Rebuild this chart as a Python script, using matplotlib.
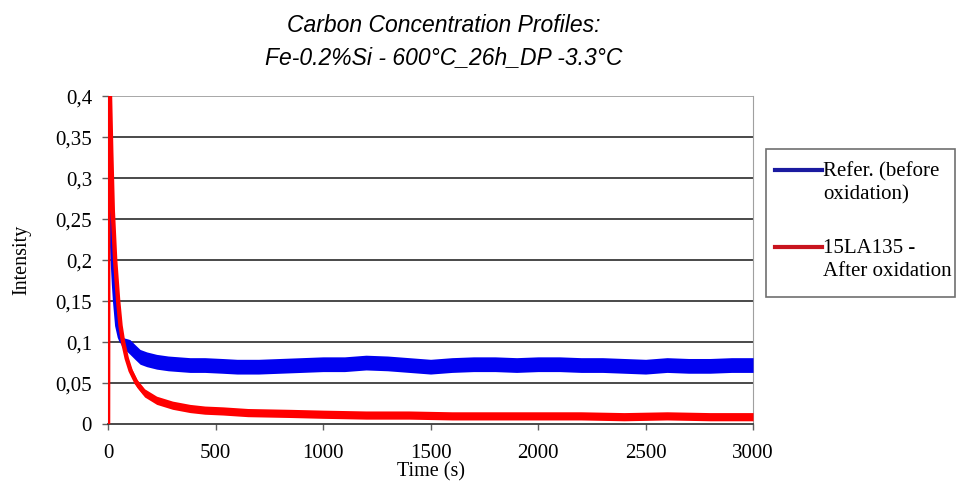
import matplotlib
matplotlib.use('Agg')
import matplotlib.pyplot as plt
from matplotlib.lines import Line2D
from matplotlib.patches import Rectangle
import numpy as np

# --- data ---
ref_time = [8, 12, 16, 22, 28, 33, 43, 55, 63, 75, 90, 102, 125, 149, 180, 226, 280, 330,
            381, 450, 530, 600, 700, 800, 900, 1000, 1100, 1200, 1300, 1400, 1500, 1600,
            1700, 1800, 1900, 2000, 2100, 2200, 2300, 2400, 2500, 2600, 2700, 2800, 2900, 3000]
ref_intensity = [0.30, 0.27, 0.24, 0.20, 0.17, 0.15, 0.12, 0.106, 0.101, 0.098, 0.096, 0.094,
                 0.088, 0.082, 0.079, 0.076, 0.074, 0.073, 0.072, 0.072, 0.071, 0.070, 0.070,
                 0.071, 0.072, 0.073, 0.073, 0.075, 0.074, 0.072, 0.070, 0.072, 0.073, 0.073,
                 0.072, 0.073, 0.073, 0.072, 0.072, 0.071, 0.070, 0.072, 0.071, 0.071, 0.072, 0.072]
ref_spread = [0.0, 0.0, 0.0, 0.0, 0.0, 0.001, 0.003, 0.005, 0.006, 0.007, 0.008, 0.009,
              0.009, 0.009, 0.009, 0.009, 0.009, 0.009, 0.009, 0.009, 0.009, 0.009,
              0.009, 0.009, 0.009, 0.009, 0.009, 0.009, 0.009, 0.009, 0.009, 0.009,
              0.009, 0.009, 0.009, 0.009, 0.009, 0.009, 0.009, 0.009, 0.009, 0.009,
              0.009, 0.009, 0.009, 0.009]

ox_time = [0, 2, 9, 15, 22, 33, 47, 58, 70, 87, 105, 133, 170, 226, 300, 381, 450, 535,
           650, 847, 1000, 1200, 1400, 1600, 1800, 2000, 2200, 2400, 2600, 2800, 3000]
ox_intensity = [0.0, 0.45, 0.40, 0.33, 0.26, 0.20, 0.15, 0.12, 0.10, 0.08, 0.065, 0.05,
                0.038, 0.029, 0.023, 0.019, 0.017, 0.016, 0.014, 0.013, 0.012, 0.011, 0.011,
                0.010, 0.010, 0.010, 0.010, 0.009, 0.010, 0.009, 0.009]
ox_spread = [0.0, 0.0, 0.0, 0.0, 0.0, 0.0, 0.002, 0.003, 0.004, 0.005, 0.005, 0.005,
             0.005, 0.005, 0.005, 0.005, 0.005, 0.005, 0.005, 0.005, 0.005, 0.005,
             0.005, 0.005, 0.005, 0.005, 0.005, 0.005, 0.005, 0.005, 0.005]

y_ticks = [0, 0.05, 0.1, 0.15, 0.2, 0.25, 0.3, 0.35, 0.4]
y_labels = ['0', '0,05', '0,1', '0,15', '0,2', '0,25', '0,3', '0,35', '0,4']
x_ticks = [0, 500, 1000, 1500, 2000, 2500, 3000]

title = 'Carbon Concentration Profiles:\nFe-0.2%Si - 600°C_26h_DP -3.3°C'
legend_labels = ['Refer. (before\noxidation)', '15LA135 -\nAfter oxidation']

serif = ['Liberation Serif', 'DejaVu Serif']
matplotlib.rcParams['font.family'] = serif

fig = plt.figure(figsize=(9.57, 4.83), dpi=100, facecolor='white')
ax = fig.add_axes([0.1129, 0.122, 0.674, 0.679])

# horizontal grid lines
for v in y_ticks[1:]:
    ax.axhline(v, color='#a0a0a0' if v == 0.4 else '#3a3a3a', lw=1.3, zorder=1)

rt = np.array(ref_time)
ri = np.array(ref_intensity)
rs = np.array(ref_spread)
ot = np.array(ox_time)
oi = np.array(ox_intensity)
os_ = np.array(ox_spread)

ax.fill_between(rt, ri - rs, ri + rs, color='#0000f0', lw=0, zorder=3)
ax.plot(rt, ri, color='#0000f0', lw=3.2, zorder=3, solid_joinstyle='round')
ax.fill_between(ot, oi - os_, oi + os_, color='#ff0000', lw=0, zorder=4)
ax.plot(ot, oi, color='#ff0000', lw=3.2, zorder=4, solid_joinstyle='round')

ax.set_xlim(0, 3000)
ax.set_ylim(0, 0.4)
ax.set_yticks(y_ticks)
ax.set_yticklabels(y_labels)
ax.set_xticks(x_ticks)
ax.tick_params(axis='both', labelsize=15, color='#606060', length=4.5, width=1,
               direction='out')
ax.tick_params(axis='y', pad=7)
ax.tick_params(axis='x', pad=10)

ax.spines['top'].set_visible(False)
ax.spines['right'].set_color('#a0a0a0')
ax.spines['left'].set_color('#808080')
ax.spines['bottom'].set_color('#3a3a3a')
ax.spines['bottom'].set_linewidth(1.3)

ax.set_xlabel('Time (s)', fontsize=14.5, labelpad=-0.5)
ax.set_ylabel('Intensity', fontsize=14.5, labelpad=17)

fig.text(0.464, 0.914, title, ha='center', va='center', fontsize=16.5, style='italic',
         family=['Liberation Sans', 'DejaVu Sans'], linespacing=1.45)

# legend box drawn by hand so the line sits on the first text row
fig.add_artist(Rectangle((766 / 957, 1 - 297 / 483), 189 / 957, 148 / 483,
                         transform=fig.transFigure, facecolor='white',
                         edgecolor='#707070', lw=1.2))
legend_colors = ['#1a1aa0', '#c8141e']
for k, (lab, col) in enumerate(zip(legend_labels, legend_colors)):
    yl = 1 - (170 + 77 * k) / 483
    fig.add_artist(Line2D([775 / 957, 822 / 957], [yl, yl], transform=fig.transFigure,
                          color=col, lw=3))
    fig.text(823 / 957, yl + 8 / 483, lab, ha='left', va='top', fontsize=15,
             linespacing=1.3)

fig.savefig('out.png', dpi=100)
